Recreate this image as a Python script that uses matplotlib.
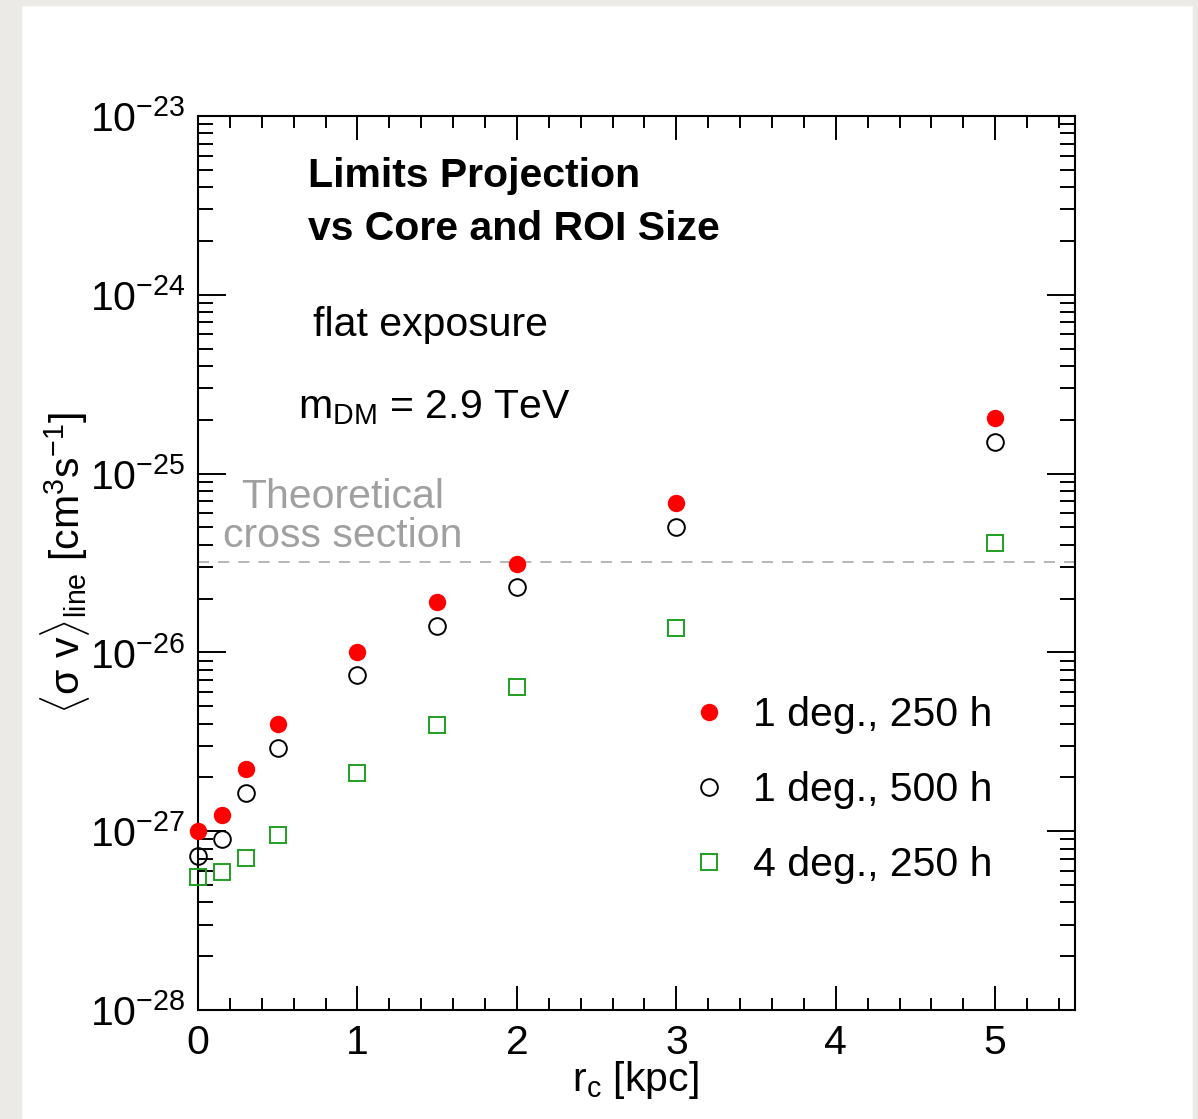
import numpy as np
import matplotlib
matplotlib.use("Agg")
import matplotlib.pyplot as plt
from matplotlib.ticker import MultipleLocator, FixedLocator, NullFormatter, LogFormatterMathtext
from matplotlib.patches import Rectangle

plt.rcParams['font.family'] = ['Liberation Sans', 'DejaVu Sans']
plt.rcParams['mathtext.fontset'] = 'custom'
plt.rcParams['mathtext.rm'] = 'Liberation Sans'
plt.rcParams['mathtext.it'] = 'Liberation Sans:italic'
plt.rcParams['mathtext.bf'] = 'Liberation Sans:bold'
plt.rcParams['mathtext.sf'] = 'Liberation Sans'
plt.rcParams['lines.scale_dashes'] = False

# ---- data ----
r_core = [0.0, 0.15, 0.3, 0.5, 1.0, 1.5, 2.0, 3.0, 5.0]
sv_1deg_250h = [1.00e-27, 1.23e-27, 2.23e-27, 3.98e-27, 1.00e-26, 1.91e-26, 3.12e-26, 6.85e-26, 2.05e-25]
sv_1deg_500h = [7.27e-28, 9.04e-28, 1.64e-27, 2.92e-27, 7.48e-27, 1.41e-26, 2.32e-26, 5.02e-26, 1.50e-25]
sv_4deg_250h = [5.55e-28, 5.91e-28, 7.08e-28, 9.52e-28, 2.12e-27, 3.93e-27, 6.40e-27, 1.37e-26, 4.09e-26]
theory_sv = 3.2e-26
labels = ["1 deg., 250 h", "1 deg., 500 h", "4 deg., 250 h"]
y_major = [1e-28, 1e-27, 1e-26, 1e-25, 1e-24, 1e-23]

W, H = 1198, 1119
fig = plt.figure(figsize=(W / 100, H / 100), dpi=100)
fig.patch.set_facecolor('white')

def px(x, y):
    return (x / W, 1 - y / H)

# screenshot-like gray border
border = '#ebeae6'
fig.patches.append(Rectangle((0, 0), 21 / W, 1, transform=fig.transFigure, color=border, zorder=0))
fig.patches.append(Rectangle((0, 1 - 5 / H), 1, 5 / H, transform=fig.transFigure, color=border, zorder=0))
fig.patches.append(Rectangle((1193 / W, 0), 5 / W, 1, transform=fig.transFigure, color=border, zorder=0))

left, right, top, bottom = 198, 1075, 116, 1010
ax = fig.add_axes([left / W, 1 - bottom / H, (right - left) / W, (bottom - top) / H])
ax.set_yscale('log')
ax.set_xlim(0, 5.5)
ax.set_ylim(1e-28, 1e-23)

for s in ax.spines.values():
    s.set_linewidth(1.5)

y_minor = [m * d for d in y_major[:-1] for m in range(2, 10)]
ax.xaxis.set_major_locator(MultipleLocator(1))
ax.xaxis.set_minor_locator(MultipleLocator(0.2))
ax.yaxis.set_major_locator(FixedLocator(y_major))
ax.yaxis.set_minor_locator(FixedLocator(y_minor))
ax.yaxis.set_minor_formatter(NullFormatter())
ax.yaxis.set_major_formatter(LogFormatterMathtext())

ax.tick_params(axis='both', which='both', direction='in', top=True, right=True, width=1.4, labelsize=29.5)
ax.tick_params(axis='x', which='major', length=17, pad=10)
ax.tick_params(axis='x', which='minor', length=8.5)
ax.tick_params(axis='y', which='major', length=20, pad=9)
ax.tick_params(axis='y', which='minor', length=10.5)

ax.axhline(theory_sv, color='#aaaaaa', lw=1.2, dashes=(8, 6.5), zorder=1)

ax.plot(r_core, sv_1deg_250h, ls='none', marker='o', ms=11.5, mfc='#ff0000', mec='#ff0000',
        mew=1.0, clip_on=False, zorder=3, label=labels[0])
ax.plot(r_core, sv_1deg_500h, ls='none', marker='o', ms=12, mfc='none', mec='black',
        mew=1.4, clip_on=False, zorder=3, label=labels[1])
ax.plot(r_core, sv_4deg_250h, ls='none', marker='s', ms=11.0, mfc='none', mec='#20a020',
        mew=1.4, clip_on=False, zorder=3, label=labels[2])

fs = 29.5
leg = ax.legend(loc='center left', bbox_to_anchor=px(689, 790), bbox_transform=fig.transFigure,
                frameon=False, fontsize=fs, handlelength=1.0, handletextpad=0.55,
                borderpad=0, borderaxespad=0, labelspacing=0.9, numpoints=1)

fig.text(*px(308, 187), "Limits Projection", fontsize=fs, fontweight='bold', va='baseline', ha='left')
fig.text(*px(308, 240), "vs Core and ROI Size", fontsize=fs, fontweight='bold', va='baseline', ha='left')
fig.text(*px(313, 336), "flat exposure", fontsize=fs, va='baseline', ha='left')
fig.text(*px(298, 418), r"m$_{\mathrm{DM}}$ = 2.9 TeV", fontsize=fs, va='baseline', ha='left')
fig.text(*px(343, 508), "Theoretical", fontsize=fs, color='#a0a0a0', va='baseline', ha='center')
fig.text(*px(343, 547), "cross section", fontsize=fs, color='#a0a0a0', va='baseline', ha='center')

fig.text(*px(635, 1080), r"r$_{\mathrm{c}}$ [kpc]", fontsize=fs, va='center', ha='center')
fig.text(*px(65, 563), r"$\langle\mathrm{\sigma\ v}\rangle_{\mathrm{line}}$ [cm$^{3}$s$^{-1}$]",
         fontsize=fs, va='center', ha='center', rotation=90)

fig.savefig("out.png", dpi=100, facecolor=fig.get_facecolor())
